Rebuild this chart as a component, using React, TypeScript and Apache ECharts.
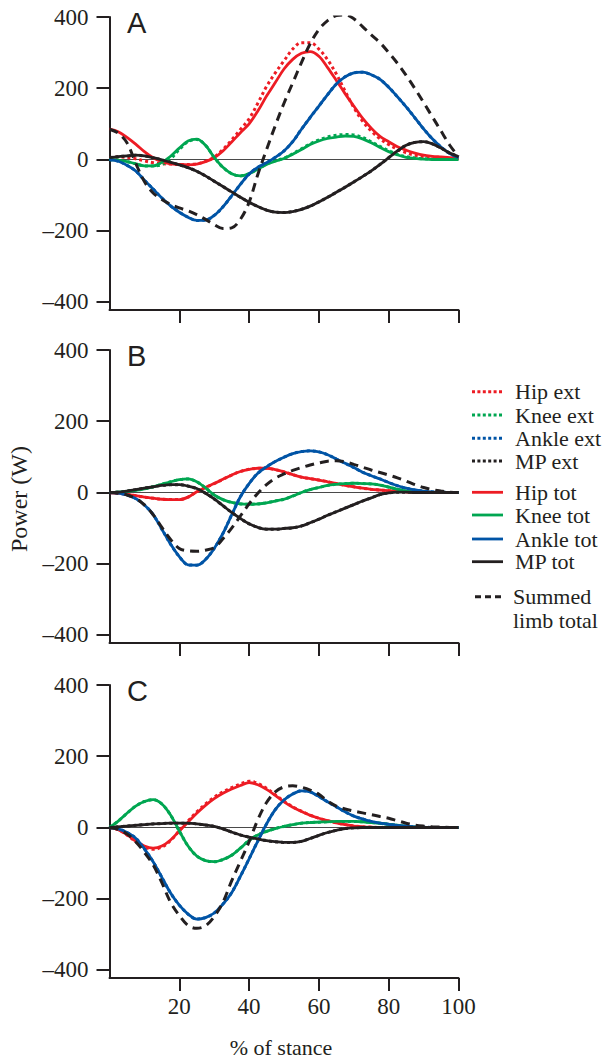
import React, { useEffect, useRef } from "react";
import * as echarts from "echarts";

// ---- data -------------------------------------------------------------
// % of stance sample points (every 2.5 %)
const X = [
  0, 2.5, 5, 7.5, 10, 12.5, 15, 17.5, 20, 22.5, 25, 27.5, 30, 32.5, 35, 37.5, 40, 42.5, 45, 47.5, 50,
  52.5, 55, 57.5, 60, 62.5, 65, 67.5, 70, 72.5, 75, 77.5, 80, 82.5, 85, 87.5, 90, 92.5, 95, 97.5, 100,
];
const X_TICKS = [20, 40, 60, 80, 100];
const Y_TICKS = [-400, -200, 0, 200, 400];
const PANEL_LETTERS = ["A", "B", "C"];

// Panel A (W)
const hipTotA = [85, 78, 62, 43, 22, 5, -6, -12, -14, -15, -13, -6, 5, 24, 49, 75, 100, 136, 178, 216, 254, 281, 298, 303, 290, 258, 222, 185, 150, 116, 88, 65, 50, 36, 26, 18, 12, 9, 7, 5, 4];
const hipExtA = [5, 7, 6, 2, -4, -9, -12, -13, -14, -14, -12, -5, 7, 28, 55, 84, 114, 158, 205, 243, 277, 310, 328, 328, 310, 280, 240, 192, 146, 108, 80, 58, 42, 29, 19, 12, 8, 5, 3, 2, 2];
const kneeTotA = [0, -2, -6, -12, -18, -18, -8, 9, 32, 52, 57, 40, 6, -22, -40, -46, -40, -27, -14, -5, 3, 15, 28, 42, 52, 59, 63, 66, 65, 58, 47, 34, 22, 13, 6, 3, 1, 0, 0, 0, 0];
const kneeExtA = [0, -2, -6, -12, -18, -18, -14, 2, 28, 50, 56, 40, 6, -22, -40, -46, -40, -27, -13, -4, 4, 16, 30, 44, 55, 63, 68, 70, 69, 62, 50, 37, 25, 15, 8, 4, 2, 1, 0, 0, 0];
const ankleTotA = [0, -5, -16, -32, -58, -83, -108, -130, -148, -162, -171, -170, -157, -133, -102, -70, -41, -22, -9, 6, 24, 50, 85, 118, 150, 182, 212, 232, 243, 245, 238, 225, 203, 176, 148, 117, 86, 58, 35, 17, 5];
const ankleExtA = ankleTotA;
const mpTotA = [5, 8, 10, 12, 10, 5, -1, -8, -15, -23, -33, -46, -61, -76, -91, -106, -120, -132, -142, -148, -149, -146, -140, -131, -119, -106, -92, -78, -63, -48, -32, -14, 5, 24, 40, 48, 50, 44, 32, 18, 8];
const mpExtA = mpTotA;
const sumA = [85, 74, 47, -10, -62, -94, -112, -126, -136, -144, -155, -168, -183, -194, -192, -168, -120, -42, 28, 95, 158, 215, 272, 325, 365, 390, 404, 406, 395, 373, 350, 328, 300, 270, 236, 199, 160, 120, 80, 40, 8];

// Panel B (W)
const hipTotB = [0, -2, -5, -9, -13, -16, -19, -20, -20, -13, 2, 14, 25, 37, 49, 59, 65, 68, 68, 64, 58, 50, 43, 39, 35, 30, 25, 20, 16, 12, 9, 7, 5, 3, 2, 1, 1, 0, 0, 0, 0];
const hipExtB = hipTotB;
const kneeTotB = [0, 1, 3, 6, 10, 16, 23, 30, 36, 38, 30, 13, -7, -20, -28, -32, -33, -32, -29, -24, -19, -10, 0, 8, 14, 20, 23, 25, 26, 25, 24, 21, 15, 9, 4, 1, 0, 0, 0, 0, 0];
const kneeExtB = kneeTotB;
const ankleTotB = [0, -2, -7, -17, -35, -62, -103, -145, -180, -203, -204, -188, -157, -115, -63, -12, 25, 54, 72, 87, 99, 109, 115, 117, 114, 106, 94, 82, 70, 57, 47, 38, 28, 19, 12, 7, 4, 2, 1, 0, 0];
const ankleExtB = ankleTotB;
const mpTotB = [0, 1, 4, 8, 12, 16, 20, 22, 22, 18, 11, -2, -18, -37, -56, -73, -88, -98, -103, -103, -101, -99, -94, -85, -75, -64, -54, -44, -34, -24, -15, -6, -1, 1, 1, 0, 0, 0, 0, 0, 0];
const mpExtB = mpTotB;
const sumB = [0, -2, -7, -17, -35, -62, -98, -132, -157, -164, -165, -162, -155, -130, -100, -66, -32, -2, 22, 40, 52, 62, 70, 77, 83, 88, 89, 86, 79, 71, 63, 56, 49, 41, 32, 22, 14, 8, 4, 1, 0];

// Panel C (W)
const hipTotC = [0, -6, -20, -38, -52, -58, -52, -35, -10, 15, 40, 62, 81, 96, 108, 118, 126, 120, 107, 90, 72, 57, 45, 34, 26, 19, 13, 8, 4, 2, 1, 0, 0, 0, 0, 0, 0, 0, 0, 0, 0];
const hipExtC = [0, -6, -21, -40, -55, -61, -55, -37, -9, 18, 44, 66, 85, 100, 112, 122, 130, 124, 110, 92, 74, 58, 46, 35, 26, 19, 13, 8, 4, 2, 1, 0, 0, 0, 0, 0, 0, 0, 0, 0, 0];
const kneeTotC = [0, 18, 40, 60, 73, 78, 66, 35, -10, -52, -80, -93, -96, -90, -78, -58, -36, -21, -11, -3, 3, 8, 12, 14, 15, 16, 17, 17, 17, 16, 14, 12, 9, 6, 3, 1, 0, 0, 0, 0, 0];
const kneeExtC = kneeTotC;
const ankleTotC = [0, -4, -14, -30, -60, -96, -140, -184, -218, -243, -257, -253, -240, -215, -183, -137, -88, -38, 10, 50, 77, 94, 103, 100, 87, 72, 58, 44, 32, 24, 17, 12, 9, 6, 4, 2, 1, 0, 0, 0, 0];
const ankleExtC = ankleTotC;
const mpTotC = [0, 2, 4, 6, 8, 10, 11, 12, 12, 12, 10, 7, 3, -4, -13, -21, -27, -32, -37, -40, -42, -42, -39, -31, -22, -14, -8, -3, -1, 0, 0, 0, 0, 0, 0, 0, 0, 0, 0, 0, 0];
const mpExtC = mpTotC;
const sumC = [0, -5, -18, -40, -70, -105, -155, -210, -247, -275, -283, -276, -250, -210, -150, -95, -40, 22, 70, 100, 114, 117, 113, 105, 93, 74, 60, 52, 46, 41, 36, 31, 26, 19, 12, 7, 4, 2, 1, 0, 0];

const LEGEND_LABELS = ["Hip ext", "Knee ext", "Ankle ext", "MP ext", "Hip tot", "Knee tot", "Ankle tot", "MP tot"];
const SUM_LABEL = ["Summed", "limb total"];
const Y_NAME = "Power (W)";
const X_NAME = "% of stance";

// ---- styles -----------------------------------------------------------
const INK = "#231f20";
const RED = "#ed1c24";
const GREEN = "#00a651";
const BLUE = "#0054a6";
const SERIF = "Liberation Serif";
const SANS = "Liberation Sans";

const PANEL_TOPS = [17, 350, 685];
const GRID_LEFT = 109.5;
const GRID_WIDTH = 349;
const GRID_HEIGHT = 293;
const Y_MIN = -422.5;

const LINE_KINDS = [
  { name: "Hip ext", color: RED, type: "dotted" },
  { name: "Knee ext", color: GREEN, type: "dotted" },
  { name: "Ankle ext", color: BLUE, type: "dotted" },
  { name: "MP ext", color: INK, type: "dotted" },
  { name: "Hip tot", color: RED, type: "solid" },
  { name: "Knee tot", color: GREEN, type: "solid" },
  { name: "Ankle tot", color: BLUE, type: "solid" },
  { name: "MP tot", color: INK, type: "solid" },
  { name: "Summed limb total", color: INK, type: "dashed" },
];

const PANEL_DATA = [
  [hipExtA, kneeExtA, ankleExtA, mpExtA, hipTotA, kneeTotA, ankleTotA, mpTotA, sumA],
  [hipExtB, kneeExtB, ankleExtB, mpExtB, hipTotB, kneeTotB, ankleTotB, mpTotB, sumB],
  [hipExtC, kneeExtC, ankleExtC, mpExtC, hipTotC, kneeTotC, ankleTotC, mpTotC, sumC],
];

function lineStyleFor(kind: { color: string; type: string }) {
  if (kind.type === "dotted") return { color: kind.color, width: 3, type: [3, 3] as any };
  if (kind.type === "dashed") return { color: kind.color, width: 3, type: [9, 6] as any };
  return { color: kind.color, width: 2.8, type: "solid" as any };
}

function textStyle(text: string, size: number, family: string, align: string) {
  return {
    text,
    fill: INK,
    fontSize: size,
    fontFamily: family,
    align,
    verticalAlign: "middle",
    textAlign: align,
    textVerticalAlign: "middle",
  };
}

function buildOption() {
  const grid = PANEL_TOPS.map((top) => ({
    left: GRID_LEFT,
    top,
    width: GRID_WIDTH,
    height: GRID_HEIGHT,
    containLabel: false,
    outerBoundsMode: "none",
  }));
  const xAxis = PANEL_TOPS.map((_, i) => ({
    type: "value",
    gridIndex: i,
    min: 0,
    max: 100,
    axisLine: { show: true, onZero: false, lineStyle: { color: INK, width: 2 } },
    axisTick: { show: true, length: 13, customValues: X_TICKS, lineStyle: { color: INK, width: 2 } },
    axisLabel: {
      show: i === 2,
      customValues: X_TICKS,
      margin: 17,
      fontFamily: SERIF,
      fontSize: 23,
      color: INK,
    },
    splitLine: { show: false },
  }));
  const yAxis = PANEL_TOPS.map((_, i) => ({
    type: "value",
    gridIndex: i,
    min: Y_MIN,
    max: 400,
    axisLine: { show: true, onZero: false, lineStyle: { color: INK, width: 2 } },
    axisTick: { show: true, length: 13, customValues: Y_TICKS, lineStyle: { color: INK, width: 2 } },
    axisLabel: {
      show: true,
      customValues: Y_TICKS,
      margin: 21,
      fontFamily: SERIF,
      fontSize: 23,
      color: INK,
      formatter: (v: number) => (v < 0 ? "\u2013" + String(-v) : String(v)),
    },
    splitLine: { show: false },
  }));

  const series: any[] = [];
  PANEL_DATA.forEach((arrs, p) => {
    arrs.forEach((vals, k) => {
      const kind = LINE_KINDS[k];
      series.push({
        type: "line",
        name: kind.name + " " + PANEL_LETTERS[p],
        xAxisIndex: p,
        yAxisIndex: p,
        data: X.map((x, j) => [x, vals[j]]),
        smooth: 0.35,
        showSymbol: false,
        symbol: "none",
        silent: true,
        z: kind.type === "dashed" ? 4 : kind.type === "solid" ? 3 : 2,
        lineStyle: lineStyleFor(kind),
        markLine:
          k === 0
            ? {
                silent: true,
                symbol: ["none", "none"],
                z: 1,
                label: { show: false },
                lineStyle: { color: "#4a4a4a", width: 1, type: "solid" },
                data: [{ yAxis: 0 }],
              }
            : undefined,
      });
    });
  });

  const graphic: any[] = [];
  PANEL_LETTERS.forEach((L, i) => {
    graphic.push({ type: "text", x: 127, y: PANEL_TOPS[i] + 5.5, style: textStyle(L, 29, SANS, "left") });
  });
  graphic.push({
    type: "text",
    x: 19,
    y: 499,
    rotation: Math.PI / 2,
    style: textStyle(Y_NAME, 24, SERIF, "center"),
  });
  graphic.push({ type: "text", x: 281, y: 1047, style: textStyle(X_NAME, 22, SERIF, "center") });

  const LEG_Y = [391.7, 415, 438.3, 461, 492.3, 515, 539, 561.7];
  LEGEND_LABELS.forEach((lab, i) => {
    const kind = LINE_KINDS[i];
    const ls = lineStyleFor(kind);
    graphic.push({
      type: "line",
      shape: { x1: 472, y1: LEG_Y[i], x2: 503, y2: LEG_Y[i] },
      style: { stroke: kind.color, lineWidth: ls.width, lineDash: kind.type === "dotted" ? [3, 2.4] : null },
    });
    graphic.push({ type: "text", x: 515, y: LEG_Y[i], style: textStyle(lab, 22, SERIF, "left") });
  });
  graphic.push({
    type: "line",
    shape: { x1: 475, y1: 596.7, x2: 503, y2: 596.7 },
    style: { stroke: INK, lineWidth: 3, lineDash: [6, 4] },
  });
  SUM_LABEL.forEach((lab, i) => {
    graphic.push({ type: "text", x: 513, y: 596.7 + i * 23.3, style: textStyle(lab, 22, SERIF, "left") });
  });

  return {
    animation: false,
    backgroundColor: "#ffffff",
    grid,
    xAxis,
    yAxis,
    series,
    graphic,
  };
}

export default function App() {
  const ref = useRef<HTMLDivElement>(null);
  useEffect(() => {
    if (!ref.current) return;
    const chart = echarts.init(ref.current, undefined, { renderer: "svg" });
    chart.setOption(buildOption() as any);
    return () => chart.dispose();
  }, []);
  return (
    <div
      ref={ref}
      style={{ position: "absolute", left: 0, top: 0, width: 609, height: 1059, background: "#fff" }}
    />
  );
}
